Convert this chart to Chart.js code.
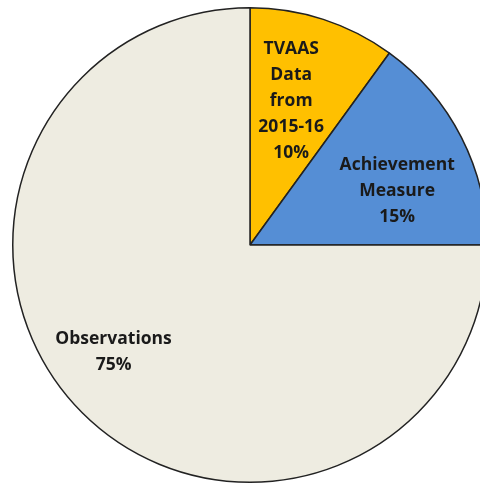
<!DOCTYPE html>
<html>
<head>
<meta charset="utf-8">
<script src="https://cdn.jsdelivr.net/npm/chart.js@4.4.0/dist/chart.umd.min.js"></script>
<style>
  html, body { margin: 0; padding: 0; background: #fff; overflow: hidden; }
  #wrap { width: 500px; height: 483px; }
</style>
</head>
<body>
<div id="wrap"><canvas id="myChart" width="500" height="483"></canvas></div>
<script>
// chart data
const labels = ['TVAAS Data from 2015-16', 'Achievement Measure', 'Observations'];
const values = [10, 15, 75];
const labelLines = [
  ['TVAAS', 'Data', 'from', '2015-16', '10%'],
  ['Achievement', 'Measure', '15%'],
  ['Observations', '75%'],
];
const colors = ['#FFC000', '#558ED5', '#EEECE1'];

// where each label sits: fraction of radius and angle nudge (degrees)
const labelRadius = [0.63, 0.66, 0.73];
const labelAngleShift = [-2, 7, 7];

const sliceLabels = {
  id: 'sliceLabels',
  afterDatasetsDraw(chart) {
    const ctx = chart.ctx;
    const meta = chart.getDatasetMeta(0);
    ctx.save();
    ctx.font = 'bold 17.5px "Open Sans"';
    ctx.fillStyle = '#1a1a1a';
    ctx.textAlign = 'center';
    ctx.textBaseline = 'middle';
    meta.data.forEach(function (arc, i) {
      const p = arc.getProps(['x', 'y', 'startAngle', 'endAngle', 'outerRadius']);
      const mid = (p.startAngle + p.endAngle) / 2 + labelAngleShift[i] * Math.PI / 180;
      const r = p.outerRadius * labelRadius[i];
      const cx = p.x + Math.cos(mid) * r;
      const cy = p.y + Math.sin(mid) * r;
      const lines = labelLines[i];
      const lh = 26;
      lines.forEach(function (t, k) {
        ctx.fillText(t, cx, cy + (k - (lines.length - 1) / 2) * lh);
      });
    });
    ctx.restore();
  }
};

const ctx = document.getElementById('myChart');
new Chart(ctx, {
  type: 'pie',
  data: {
    labels: labels,
    datasets: [{
      data: values,
      backgroundColor: colors,
      borderColor: '#222222',
      borderWidth: 1.5,
    }],
  },
  options: {
    responsive: false,
    animation: false,
    layout: { padding: { left: 12, right: 12, top: 7, bottom: 0 } },
    plugins: {
      legend: { display: false },
      tooltip: { enabled: false },
    },
  },
  plugins: [sliceLabels],
});
</script>
</body>
</html>
